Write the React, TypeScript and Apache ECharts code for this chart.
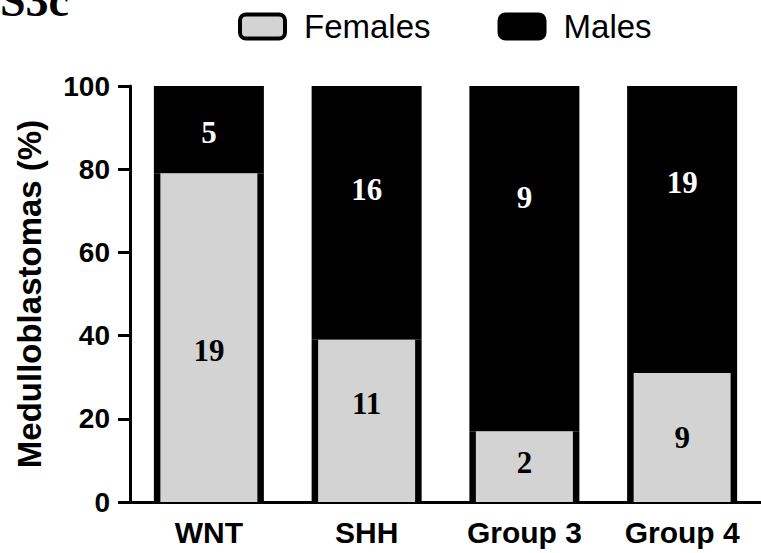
import React, { useEffect, useRef } from "react";
import * as echarts from "echarts";

const categories = ["WNT", "SHH", "Group 3", "Group 4"];
const femalesPct = [79, 39, 17, 31];
const malesPct = [21, 61, 83, 69];
const femalesCount = [19, 11, 2, 9];
const malesCount = [5, 16, 9, 19];
const yTicks = [0, 20, 40, 60, 80, 100];

// label nudges (style only)
const maleLabelDy = [3, -23, -61, -47];
const femaleLabelDy = [13, -17, -4, 0];

const SANS = "Liberation Sans, Arial, sans-serif";
const SERIF = "Liberation Serif, Times New Roman, serif";

export default function App() {
  const ref = useRef<HTMLDivElement>(null);
  useEffect(() => {
    if (!ref.current) return;
    const chart = echarts.init(ref.current, undefined, { renderer: "svg" });
    const valueLabel = (counts: number[], dys: number[], color: string) =>
      counts.map((c, i) => ({
        show: true,
        position: "inside",
        offset: [0, dys[i]],
        formatter: String(c),
        color,
        fontFamily: SERIF,
        fontWeight: "bold",
        fontSize: 31,
      }));
    const mLabels = valueLabel(malesCount, maleLabelDy, "#fff");
    const fLabels = valueLabel(femalesCount, femaleLabelDy, "#000");
    chart.setOption({
      animation: false,
      backgroundColor: "#fff",
      graphic: [
        {
          type: "text",
          left: 0,
          top: -23,
          style: {
            text: "S3c",
            fontFamily: SERIF,
            fontWeight: "bold",
            fontSize: 46,
            fill: "#000",
          },
        },
      ],
      legend: {
        left: 233,
        top: 5,
        itemWidth: 45,
        itemHeight: 24,
        itemGap: 67,
        selectedMode: false,
        textStyle: {
          fontFamily: SANS,
          fontSize: 33,
          color: "#000",
          padding: [0, 0, 0, 14],
        },
        data: [
          {
            name: "Females",
            icon: "roundRect",
            itemStyle: { color: "#d3d3d3", borderColor: "#000", borderWidth: 4 },
          },
          {
            name: "Males",
            icon: "roundRect",
            itemStyle: { color: "#000", borderColor: "#000", borderWidth: 4 },
          },
        ],
      },
      grid: { left: 130, top: 86, width: 636, bottom: 51, containLabel: false },
      xAxis: [
        {
          type: "category",
          data: categories,
          axisLine: { lineStyle: { color: "#000", width: 3 } },
          axisTick: { alignWithLabel: true, length: 8, lineStyle: { color: "#000", width: 2 } },
          axisLabel: {
            color: "#000",
            fontFamily: SANS,
            fontWeight: "bold",
            fontSize: 30,
            margin: 15,
          },
        },
        { type: "category", data: categories, show: false },
      ],
      yAxis: {
        type: "value",
        min: yTicks[0],
        max: yTicks[yTicks.length - 1],
        interval: 20,
        name: "Medulloblastomas (%)",
        nameLocation: "middle",
        nameGap: 84,
        nameTextStyle: {
          color: "#000",
          fontFamily: SANS,
          fontWeight: "bold",
          fontSize: 33,
        },
        splitLine: { show: false },
        axisLine: { show: true, lineStyle: { color: "#000", width: 3 } },
        axisTick: { show: true, length: 12, lineStyle: { color: "#000", width: 3 } },
        axisLabel: {
          color: "#000",
          fontFamily: SANS,
          fontWeight: "bold",
          fontSize: 28,
          margin: 20,
        },
      },
      series: [
        {
          name: "FemalesBase",
          type: "bar",
          stack: "all",
          xAxisIndex: 0,
          barWidth: 110,
          data: femalesPct,
          itemStyle: { color: "#000" },
          silent: true,
        },
        {
          name: "Males",
          type: "bar",
          stack: "all",
          xAxisIndex: 0,
          barWidth: 110,
          data: malesPct.map((v, i) => ({ value: v, label: mLabels[i] })),
          itemStyle: { color: "#000" },
        },
        {
          name: "Females",
          type: "bar",
          xAxisIndex: 1,
          barWidth: 97,
          z: 5,
          data: femalesPct.map((v, i) => ({ value: v, label: fLabels[i] })),
          itemStyle: { color: "#d3d3d3" },
        },
      ],
    });
    return () => chart.dispose();
  }, []);
  return (
    <div
      ref={ref}
      style={{ position: "fixed", left: 0, top: 0, width: 761, height: 553 }}
    />
  );
}
